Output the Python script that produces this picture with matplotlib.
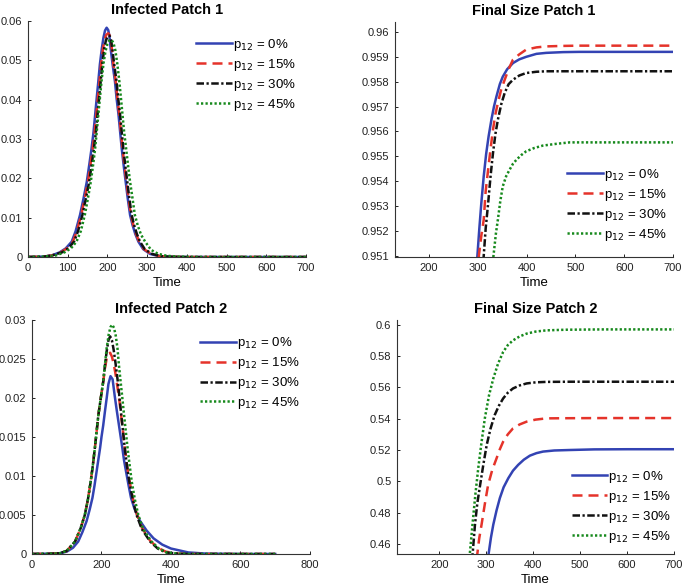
import numpy as np
import matplotlib
matplotlib.use("Agg")
import matplotlib.pyplot as plt
from matplotlib.ticker import FormatStrFormatter

plt.rcParams['font.family'] = ['Liberation Sans', 'DejaVu Sans']

LABELS = ["p$_{12}$ = 0%", "p$_{12}$ = 15%", "p$_{12}$ = 30%", "p$_{12}$ = 45%"]

# Infected patch 1
t_i1_p0 = [0, 40, 60, 80, 95, 110, 120, 131, 140, 148, 155, 160, 165, 169, 173, 177, 181, 186, 190, 194, 198,
           202, 205, 208, 213, 219, 223, 228, 232, 236, 241, 246, 251, 257, 263, 270, 278, 290, 307, 330, 360,
           400, 700]
i1_p0 = [0, 0.0001, 0.0004, 0.0012, 0.0022, 0.0039, 0.0066, 0.0107, 0.0150, 0.0191, 0.0240, 0.0276, 0.0318,
         0.0361, 0.0404, 0.0446, 0.0490, 0.0531, 0.0558, 0.0576, 0.0583, 0.0577, 0.0562, 0.0531, 0.0490, 0.0446,
         0.0404, 0.0361, 0.0318, 0.0276, 0.0232, 0.0191, 0.0150, 0.0107, 0.0082, 0.0059, 0.0039, 0.0020, 0.0008,
         0.0002, 0.00005, 0, 0]
t_i1_p15 = [0, 40, 60, 83, 98, 113, 123, 134, 143, 151, 158, 163, 168, 172, 176, 180, 184, 189, 193, 197, 202,
            206, 209, 211, 215, 221, 225, 230, 234, 238, 243, 248, 253, 259, 265, 272, 280, 292, 310, 333, 363,
            400, 700]
i1_p15 = [0, 0.0001, 0.0004, 0.0012, 0.0022, 0.0039, 0.0066, 0.0107, 0.0150, 0.0191, 0.0240, 0.0276, 0.0318,
          0.0361, 0.0404, 0.0446, 0.0490, 0.0531, 0.0553, 0.0565, 0.0569, 0.0563, 0.0548, 0.0531, 0.0490, 0.0446,
          0.0404, 0.0361, 0.0318, 0.0276, 0.0232, 0.0191, 0.0150, 0.0107, 0.0082, 0.0059, 0.0039, 0.0020, 0.0008,
          0.0002, 0.00005, 0, 0]
t_i1_p30 = [0, 40, 60, 86, 101, 116, 126, 137, 146, 154, 161, 166, 171, 175, 179, 183, 187, 192, 196, 200, 205,
            209, 212, 217, 223, 227, 232, 236, 240, 245, 250, 255, 261, 267, 274, 282, 294, 312, 336, 366, 400, 700]
i1_p30 = [0, 0.0001, 0.0004, 0.0012, 0.0022, 0.0039, 0.0066, 0.0107, 0.0150, 0.0191, 0.0240, 0.0276, 0.0318,
          0.0361, 0.0404, 0.0446, 0.0490, 0.0531, 0.0550, 0.0560, 0.0563, 0.0552, 0.0531, 0.0490, 0.0446, 0.0404,
          0.0361, 0.0318, 0.0276, 0.0232, 0.0191, 0.0150, 0.0107, 0.0082, 0.0059, 0.0039, 0.0020, 0.0008, 0.0002,
          0.00005, 0, 0]
t_i1_p45 = [0, 40, 70, 92, 108, 122, 133, 143, 151, 158, 164, 169, 173, 177, 181, 185, 190, 195, 200, 205, 210,
            215, 220, 225, 230, 234, 238, 242, 247, 252, 257, 263, 269, 277, 285, 295, 310, 328, 350, 380, 420, 700]
i1_p45 = [0, 0.0001, 0.0004, 0.0012, 0.0022, 0.0039, 0.0066, 0.0107, 0.0150, 0.0191, 0.0235, 0.0276, 0.0318,
          0.0361, 0.0404, 0.0446, 0.0492, 0.0523, 0.0542, 0.0551, 0.0552, 0.0545, 0.0525, 0.0490, 0.0446, 0.0404,
          0.0361, 0.0318, 0.0276, 0.0232, 0.0191, 0.0150, 0.0107, 0.0078, 0.0056, 0.0039, 0.0018, 0.0008, 0.0003,
          0.0001, 0, 0]

# Final size patch 1
t_f1_p0 = [292, 299, 303, 307, 312, 317, 322, 328, 333, 338, 345, 351, 360, 372, 385, 399, 420, 440, 475, 508, 600, 700]
f1_p0 = [0.9490, 0.9510, 0.9521, 0.9531, 0.9542, 0.9551, 0.9558, 0.9565, 0.9570, 0.9574, 0.9579, 0.9582,
         0.9585, 0.95875, 0.9589, 0.9590, 0.95912, 0.95916, 0.95919, 0.9592, 0.9592, 0.9592]
t_f1_p15 = [295, 302, 307, 312, 316, 321, 326, 331, 336, 341, 348, 355, 363, 372, 385, 399, 420, 440, 475, 508, 600, 700]
f1_p15 = [0.9490, 0.9510, 0.9518, 0.95245, 0.9536, 0.95446, 0.9553, 0.95607, 0.9567, 0.95715, 0.9577, 0.95808,
          0.9585, 0.95889, 0.9591, 0.95929, 0.95938, 0.95942, 0.95944, 0.95945, 0.95945, 0.95945]
t_f1_p30 = [305, 312, 316, 321, 326, 331, 336, 341, 348, 355, 363, 372, 385, 399, 420, 440, 500, 600, 700]
f1_p30 = [0.9490, 0.9510, 0.9521, 0.9531, 0.9542, 0.95513, 0.9559, 0.95647, 0.9571, 0.95755, 0.9579, 0.95808,
          0.95825, 0.95835, 0.9584, 0.95842, 0.95842, 0.95842, 0.95842]
t_f1_p45 = [326, 332, 337, 341, 346, 351, 358, 365, 372, 379, 389, 399, 415, 433, 460, 488, 600, 700]
f1_p45 = [0.9495, 0.9510, 0.9519, 0.95245, 0.9532, 0.95379, 0.9542, 0.95446, 0.9547, 0.95486, 0.95505, 0.9552,
          0.95533, 0.95543, 0.9555, 0.95556, 0.95556, 0.95556]

# Infected patch 2
t_i2_p0 = [0, 50, 80, 100, 118, 133, 145, 157, 166, 174, 180, 186, 191, 196, 200, 205, 210, 215, 220, 226, 232,
           238, 244, 250, 255, 260, 265, 271, 278, 285, 295, 310, 330, 350, 375, 400, 450, 500, 600, 700]
i2_p0 = [0, 0.00003, 0.0001, 0.0003, 0.0008, 0.0016, 0.0028, 0.0042, 0.0057, 0.0072, 0.0088, 0.0106, 0.0121,
         0.0136, 0.0150, 0.0165, 0.0183, 0.0200, 0.0218, 0.0228, 0.0224, 0.0203, 0.0184, 0.0166, 0.0151, 0.0136,
         0.0120, 0.0105, 0.0088, 0.0072, 0.0058, 0.0043, 0.0030, 0.0020, 0.0012, 0.0007, 0.0002, 0.00005, 0, 0]
t_i2_p15 = [0, 50, 80, 100, 124, 140, 152, 161, 169, 175, 181, 186, 191, 198, 205, 210, 215, 220, 225, 230, 235,
            240, 246, 252, 257, 262, 267, 273, 280, 290, 301, 316, 340, 362, 385, 420, 450, 700]
i2_p15 = [0, 0.00003, 0.0001, 0.0004, 0.0016, 0.0033, 0.0050, 0.0070, 0.0093, 0.0113, 0.0136, 0.0157, 0.0178,
          0.0200, 0.0221, 0.0238, 0.0251, 0.0257, 0.0258, 0.0253, 0.0244, 0.0232, 0.0214, 0.0195, 0.0176, 0.0157,
          0.0136, 0.0115, 0.0095, 0.0072, 0.0052, 0.0034, 0.0017, 0.0008, 0.0003, 0.00005, 0, 0]
t_i2_p30 = [0, 50, 80, 100, 124, 140, 152, 161, 169, 175, 181, 186, 191, 198, 205, 210, 215, 220, 225, 230, 235,
            240, 247, 252, 257, 262, 267, 273, 280, 290, 301, 316, 340, 362, 385, 420, 450, 700]
i2_p30 = [0, 0.00003, 0.0001, 0.0004, 0.0016, 0.0033, 0.0050, 0.0070, 0.0093, 0.0113, 0.0136, 0.0157, 0.0178,
          0.0200, 0.0221, 0.0242, 0.0260, 0.0274, 0.0279, 0.0274, 0.0262, 0.0246, 0.0221, 0.0200, 0.0178, 0.0157,
          0.0136, 0.0114, 0.0093, 0.0070, 0.0050, 0.0032, 0.0016, 0.0007, 0.0002, 0.00005, 0, 0]
t_i2_p45 = [0, 50, 80, 100, 124, 140, 152, 161, 169, 175, 181, 186, 191, 198, 205, 210, 215, 221, 226, 231, 236,
            241, 246, 250, 255, 260, 265, 270, 275, 281, 287, 296, 306, 320, 344, 365, 387, 420, 450, 700]
i2_p45 = [0, 0.00003, 0.0001, 0.0004, 0.0016, 0.0033, 0.0050, 0.0070, 0.0093, 0.0113, 0.0136, 0.0157, 0.0178,
          0.0200, 0.0221, 0.0243, 0.0264, 0.0282, 0.0291, 0.0294, 0.0290, 0.0280, 0.0264, 0.0243, 0.0221, 0.0200,
          0.0178, 0.0157, 0.0136, 0.0114, 0.0093, 0.0070, 0.0050, 0.0032, 0.0016, 0.0007, 0.0002, 0.00005, 0, 0]

# Final size patch 2
t_f2_p0 = [298, 305, 310, 315, 322, 329, 337, 347, 357, 368, 380, 393, 407, 421, 445, 478, 530, 600, 700]
f2_p0 = [0.440, 0.4536, 0.4640, 0.4723, 0.4815, 0.4893, 0.4962, 0.5020, 0.5068, 0.5105, 0.5138, 0.5164,
         0.5180, 0.5190, 0.5197, 0.5200, 0.5204, 0.5205, 0.5205]
t_f2_p15 = [274, 281, 285, 290, 297, 304, 313, 322, 329, 336, 346, 357, 371, 386, 405, 428, 470, 550, 700]
f2_p15 = [0.440, 0.4536, 0.4635, 0.4723, 0.4855, 0.4977, 0.5075, 0.5147, 0.5205, 0.5253, 0.5300, 0.5338,
          0.5363, 0.5381, 0.5394, 0.5402, 0.5403, 0.5404, 0.5404]
t_f2_p30 = [265, 271, 276, 281, 287, 294, 301, 309, 318, 327, 336, 346, 357, 371, 386, 405, 428, 480, 600, 700]
f2_p30 = [0.440, 0.4536, 0.4723, 0.4860, 0.4977, 0.5110, 0.5232, 0.5335, 0.5423, 0.5483, 0.5529, 0.5566,
          0.5593, 0.5612, 0.5625, 0.5632, 0.5635, 0.5636, 0.5636, 0.5636]
t_f2_p45 = [259, 265, 272, 277, 283, 290, 297, 306, 315, 325, 336, 346, 357, 371, 386, 405, 428, 470, 550, 700]
f2_p45 = [0.440, 0.4536, 0.4765, 0.4920, 0.5084, 0.5250, 0.5402, 0.5550, 0.5656, 0.5750, 0.5826, 0.5870,
          0.5900, 0.5925, 0.5943, 0.5956, 0.5964, 0.5968, 0.5970, 0.5970]

COLORS = ['#3343b3', '#e5332a', '#111111', '#16891c']
DASHES = [None, (4.0, 2.4), (3.0, 1.0, 0.9, 1.0), (0.9, 0.9)]


def draw(ax, series, title, ylim, xlim, xticks, yticks, leg_anchor, leg_loc):
    for (t, v), c, d, lab in zip(series, COLORS, DASHES, LABELS):
        line, = ax.plot(t, v, color=c, lw=1.8, label=lab)
        if d is not None:
            line.set_dashes(d)
    ax.set_xlim(*xlim)
    ax.set_ylim(*ylim)
    ax.set_xticks(xticks)
    ax.set_yticks(yticks)
    ax.yaxis.set_major_formatter(FormatStrFormatter('%g'))
    ax.xaxis.set_major_formatter(FormatStrFormatter('%g'))
    ax.spines['top'].set_visible(False)
    ax.spines['right'].set_visible(False)
    for s in ['left', 'bottom']:
        ax.spines[s].set_color('#333333')
        ax.spines[s].set_linewidth(0.8)
    ax.tick_params(direction='in', length=2.5, width=0.7, labelsize=8, colors='#222222', pad=4)
    ax.set_title(title, fontsize=10.5, fontweight='bold', pad=5)
    ax.set_xlabel("Time", fontsize=9.5, labelpad=3)
    ax.legend(loc=leg_loc, bbox_to_anchor=leg_anchor, frameon=False, fontsize=9.5,
              handlelength=2.7, handletextpad=0.1, labelspacing=0.3, borderpad=0, borderaxespad=0)


fig = plt.figure(figsize=(6.85, 5.86), dpi=100)

ax1 = fig.add_axes([0.0409, 0.5614, 0.4058, 0.4027])
draw(ax1, [(t_i1_p0, i1_p0), (t_i1_p15, i1_p15), (t_i1_p30, i1_p30), (t_i1_p45, i1_p45)],
     "Infected Patch 1", (0, 0.06), (0, 700), np.arange(0, 701, 100), np.arange(0, 0.0601, 0.01),
     (0.605, 0.932), 'upper left')

ax2 = fig.add_axes([0.5766, 0.5614, 0.4058, 0.401])
draw(ax2, [(t_f1_p0, f1_p0), (t_f1_p15, f1_p15), (t_f1_p30, f1_p30), (t_f1_p45, f1_p45)],
     "Final Size Patch 1", (0.95095, 0.9604), (130, 700), np.arange(200, 701, 100),
     np.arange(0.951, 0.96001, 0.001), (0.62, 0.06), 'lower left')

ax3 = fig.add_axes([0.0467, 0.0546, 0.4058, 0.3993])
draw(ax3, [(t_i2_p0, i2_p0), (t_i2_p15, i2_p15), (t_i2_p30, i2_p30), (t_i2_p45, i2_p45)],
     "Infected Patch 2", (0, 0.03), (0, 800), np.arange(0, 801, 200), np.arange(0, 0.03001, 0.005),
     (0.605, 0.935), 'upper left')

ax4 = fig.add_axes([0.5796, 0.0546, 0.4044, 0.3993])
draw(ax4, [(t_f2_p0, f2_p0), (t_f2_p15, f2_p15), (t_f2_p30, f2_p30), (t_f2_p45, f2_p45)],
     "Final Size Patch 2", (0.4536, 0.603), (110, 700), np.arange(200, 701, 100),
     np.arange(0.46, 0.6001, 0.02), (0.63, 0.04), 'lower left')

fig.savefig("out.png", dpi=100)
